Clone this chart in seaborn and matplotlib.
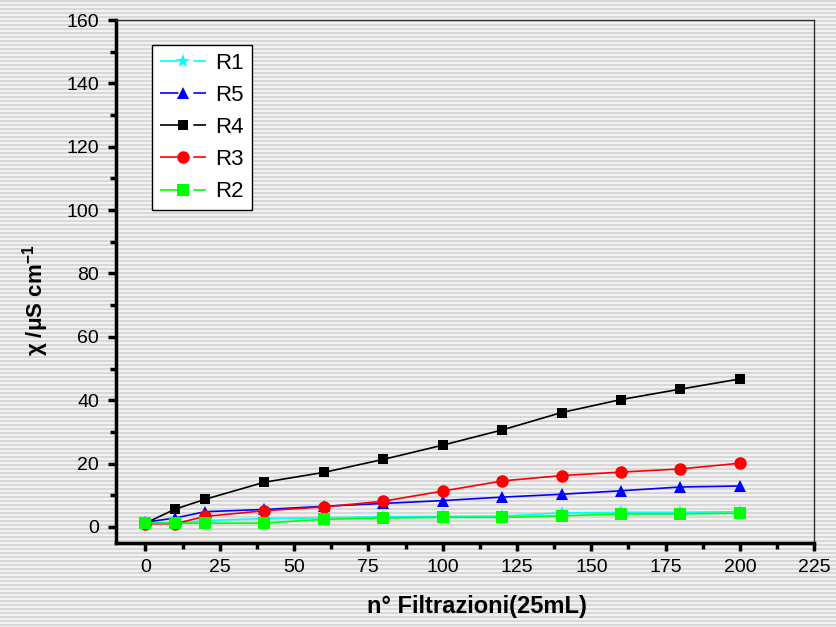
import numpy as np
import pandas as pd
import matplotlib
matplotlib.use("Agg")
import matplotlib.pyplot as plt
import seaborn as sns
from matplotlib.ticker import MultipleLocator
from matplotlib.lines import Line2D
from matplotlib.legend_handler import HandlerTuple

x_vals = [0, 10, 20, 40, 60, 80, 100, 120, 140, 160, 180, 200]
r1 = [1.2, 1.2, 2.0, 2.6, 2.9, 3.2, 3.3, 3.4, 4.4, 4.6, 4.6, 4.8]
r5 = [1.5, 2.8, 4.8, 5.5, 6.5, 7.4, 8.3, 9.4, 10.3, 11.4, 12.6, 12.9]
r4 = [1.2, 5.6, 8.7, 14.1, 17.2, 21.3, 25.8, 30.6, 36.1, 40.2, 43.5, 46.7]
r3 = [1.0, 1.0, 3.3, 5.1, 6.3, 8.1, 11.3, 14.5, 16.2, 17.3, 18.3, 20.1]
r2 = [1.2, 1.2, 1.2, 1.2, 2.4, 2.8, 3.0, 3.0, 3.5, 4.1, 4.1, 4.3]

series = [("R1", r1, "#00ffff", "*", 10),
          ("R5", r5, "#0000ff", "^", 9),
          ("R4", r4, "#000000", "s", 7.5),
          ("R3", r3, "#ff0000", "o", 9),
          ("R2", r2, "#00ff00", "s", 8)]

plt.rcParams['font.family'] = ['Liberation Sans', 'DejaVu Sans']
plt.rcParams['mathtext.fontset'] = 'custom'
plt.rcParams['mathtext.rm'] = 'Liberation Sans'
plt.rcParams['mathtext.bf'] = 'Liberation Sans:bold'
fig = plt.figure(figsize=(8.36, 6.27), dpi=100)

# striped background
H, W = 627, 836
bg = np.ones((H, W, 3))
rows = np.arange(H)
shade = np.where((rows % 4) < 2, 0.85, 0.95)
bg *= shade[:, None, None]
fig.figimage(bg, xo=0, yo=0, zorder=-10)
fig.patch.set_alpha(0)

ax = fig.add_axes([0.1384, 0.1344, 0.974 - 0.1384, 0.968 - 0.1344])
ax.set_facecolor('none')

handles = []
labels = []
for name, vals, col, mk, ms in series:
    df = pd.DataFrame({"x": x_vals, "y": vals})
    sns.lineplot(data=df, x="x", y="y", ax=ax, color=col, marker=mk,
                 markersize=ms, markeredgewidth=0, linewidth=1.2,
                 markeredgecolor=col)
    seg = Line2D([], [], color=col, linewidth=1.2, linestyle=(0, (11, 9)))
    mrk = Line2D([], [], color=col, marker=mk, linestyle='none',
                 markersize=ms, markeredgewidth=0)
    handles.append((seg, mrk))
    labels.append(name)

ax.set_xlim(-10, 225)
ax.set_ylim(-5, 160)
ax.xaxis.set_major_locator(MultipleLocator(25))
ax.xaxis.set_minor_locator(MultipleLocator(12.5))
ax.yaxis.set_major_locator(MultipleLocator(20))
ax.yaxis.set_minor_locator(MultipleLocator(10))

for s in ['left', 'bottom']:
    ax.spines[s].set_linewidth(2.5)
for s in ['top', 'right']:
    ax.spines[s].set_linewidth(1.0)
    ax.spines[s].set_color('#333333')

ax.tick_params(axis='both', which='major', direction='out', length=6, width=2.5,
               labelsize=14, pad=6)
ax.tick_params(axis='both', which='minor', direction='out', length=4, width=2.5)
ax.tick_params(top=False, right=False, which='both')

ax.set_xlabel("n° Filtrazioni(25mL)", fontsize=17, fontweight='bold')
ax.xaxis.set_label_coords(0.517, -0.100)
ax.set_ylabel(r"χ /μS cm$^{\mathbf{-1}}$", fontsize=16, fontweight='bold')
ax.yaxis.set_label_coords(-0.092, 0.464)

leg = ax.legend(handles, labels, handler_map={tuple: HandlerTuple(ndivide=1)},
                loc='upper left', bbox_to_anchor=(0.052, 0.952), fontsize=16,
                frameon=True, fancybox=False, edgecolor='black', facecolor='white',
                framealpha=1, handlelength=2.1, handletextpad=0.4,
                borderpad=0.35, labelspacing=0.5, borderaxespad=0)
leg.get_frame().set_linewidth(1.0)

fig.savefig("out.png", dpi=100)
